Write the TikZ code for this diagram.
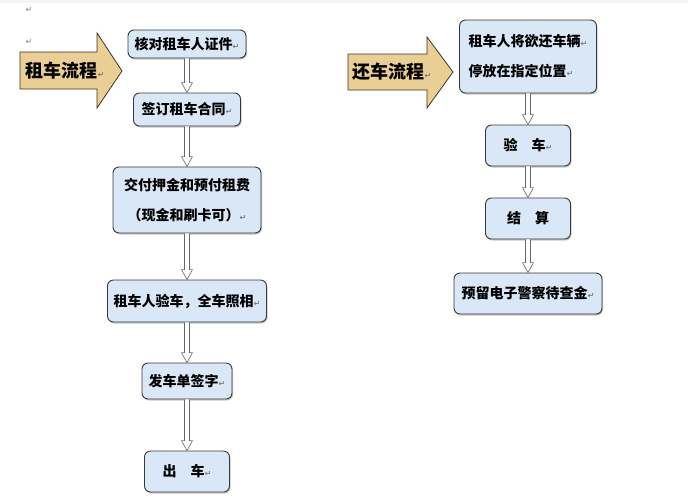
\documentclass[tikz,border=0pt]{standalone}
\usepackage{fontspec}
\usepackage{xcolor}
\usepackage{tikz}
\usetikzlibrary{calc, shadows}
\setmainfont{Noto Sans CJK SC}
\newfontfamily\markfont{DejaVu Sans}
\definecolor{boxBlue}{RGB}{218, 231, 246}
\definecolor{boxBorder}{RGB}{56, 56, 56}
\definecolor{arrowTan}{RGB}{234, 207, 148}
\definecolor{arrowBorder}{RGB}{60, 52, 40}
\definecolor{pageGray}{RGB}{244, 244, 244}
\newcommand{\pmark}{{\markfont\fontsize{8}{8}\selectfont\color{black!50}↵}}
\newcommand{\flowarrow}[2]{%
  \draw[flow] ($(#1.south)+(-2.5,0)$) -- ($(#1.south |- #2.north)+(-2.5,-10)$)
    -- ($(#1.south |- #2.north)+(-5.5,-10)$) -- (#1.south |- #2.north)
    -- ($(#1.south |- #2.north)+(5.5,-10)$) -- ($(#1.south |- #2.north)+(2.5,-10)$)
    -- ($(#1.south)+(2.5,0)$);}

\begin{document}
\begin{tikzpicture}[
    x=1pt, y=-1pt,
    stepbox/.style={
        rectangle,
        rounded corners=6pt,
        draw=boxBorder,
        line width=0.9pt,
        fill=boxBlue,
        inner sep=0pt,
        font=\fontsize{14}{30}\selectfont\bfseries,
        drop shadow={shadow xshift=1pt, shadow yshift=-1.5pt, fill=black!45}
    },
    bigarrow/.style={
        draw=arrowBorder,
        line width=0.8pt,
        fill=arrowTan
    },
    bigtext/.style={
        font=\fontsize{18}{18}\selectfont\bfseries
    },
    flow/.style={
        draw=black!60,
        line width=0.6pt,
        fill=white
    }
]
\useasboundingbox (0,0) rectangle (688,499);

% Page edge
\fill[pageGray] (0,0) rectangle (688,3);
\node (mark1) at (29,10) {\pmark};
\node (mark2) at (29,42) {\pmark};

% Rental flow
\draw[bigarrow] (20,52) -- (97,52) -- (97,33) -- (122,71) -- (97,108) -- (97,89) -- (20,89) -- cycle;
\node[bigtext] (rentTitle) at (65,71) {租车流程\pmark};

\node[stepbox, minimum width=118, minimum height=28] (check) at (187,44) {核对租车人证件\pmark};
\node[stepbox, minimum width=107, minimum height=33] (contract) at (187,109.5) {签订租车合同\pmark};
\node[stepbox, minimum width=148, minimum height=66, align=center] (deposit) at (187,200) {交付押金和预付租费\\（现金和刷卡可）\pmark};
\node[stepbox, minimum width=159, minimum height=42] (inspect) at (187,301) {租车人验车，全车照相\pmark};
\node[stepbox, minimum width=90, minimum height=36] (sign) at (187,381) {发车单签字\pmark};
\node[stepbox, minimum width=85, minimum height=41] (depart) at (187,471.5) {出\hspace{1em}车\pmark};

\flowarrow{check}{contract}
\flowarrow{contract}{deposit}
\flowarrow{deposit}{inspect}
\flowarrow{inspect}{sign}
\flowarrow{sign}{depart}

% Return flow
\draw[bigarrow] (348,54) -- (427,54) -- (427,37) -- (453,72) -- (427,108) -- (427,90) -- (348,90) -- cycle;
\node[bigtext] (returnTitle) at (392,72) {还车流程\pmark};

\node[stepbox, minimum width=137, minimum height=73, align=left] (park) at (528,56.5) {租车人将欲还车辆\pmark\\停放在指定位置\pmark};
\node[stepbox, minimum width=85, minimum height=41] (verify) at (528,145.5) {验\hspace{1em}车\pmark};
\node[stepbox, minimum width=85, minimum height=41] (settle) at (528,218.5) {结\hspace{1em}算};
\node[stepbox, minimum width=148, minimum height=41] (hold) at (528,293.5) {预留电子警察待查金\pmark};

\flowarrow{park}{verify}
\flowarrow{verify}{settle}
\flowarrow{settle}{hold}

\end{tikzpicture}
\end{document}
